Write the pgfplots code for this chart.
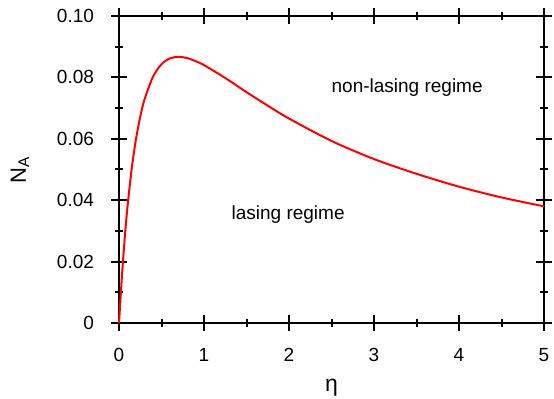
\documentclass[border=0pt]{standalone}
\usepackage{fontspec}
\setmainfont{Liberation Sans}
\usepackage{pgfplots}
\pgfplotsset{compat=1.18}
\usetikzlibrary{calc}
\pgfplotstableread{
x y
0 0
0.025 0.0112
0.05 0.0214
0.075 0.0303
0.1 0.0379
0.15 0.0504
0.2 0.0599
0.25 0.0672
0.3 0.0728
0.4 0.0802
0.5 0.0843
0.6 0.0862
0.7 0.0867
0.8 0.0863
0.9 0.0853
1.0 0.0840
1.25 0.0798
1.5 0.0752
1.75 0.0708
2.0 0.0666
2.5 0.0593
3.0 0.0534
3.5 0.0486
4.0 0.0444
4.5 0.0409
5.0 0.0380
}\curve
\begin{document}
\begin{tikzpicture}
\begin{axis}[
  scale only axis,
  width=212.5pt, height=153.5pt,
  xmin=0, xmax=5, ymin=0, ymax=0.10,
  xtick={0,1,2,3,4,5},
  ytick={0,0.02,0.04,0.06,0.08,0.10},
  yticklabels={0,0.02,0.04,0.06,0.08,0.10},
  minor x tick num=1, minor y tick num=1,
  tick align=center,
  major tick length=8pt, minor tick length=4pt,
  axis line style={line width=1pt},
  every tick/.style={line width=1pt, black},
  /pgf/number format/assume math mode=true,
  tick label style={font=\fontsize{9.5}{11}\selectfont},
  xticklabel style={yshift=-5pt},
  yticklabel style={xshift=-5pt},
  scaled y ticks=false,
  xlabel={η},
  ylabel={N\textsubscript{A}},
  xlabel style={font=\fontsize{11.5}{13}\selectfont, at={(axis description cs:0.5,-0.21)}, anchor=center},
  ylabel style={font=\fontsize{11}{13}\selectfont, at={(axis description cs:-0.233,0.5)}, anchor=center, rotate=0},
  clip=false,
]
\addplot[red, line width=1pt, smooth, tension=0.5] table[x=x,y=y] {\curve};
\node[font=\fontsize{9.5}{11}\selectfont] at (axis cs:3.39,0.0766) {non-lasing regime};
\node[font=\fontsize{9.5}{11}\selectfont] at (axis cs:1.99,0.0352) {lasing regime};
\coordinate (sw) at (rel axis cs:0,0);
\coordinate (ne) at (rel axis cs:1,1);
\end{axis}
\pgfresetboundingbox
\path[use as bounding box] ($(sw)+(-59.5pt,-38pt)$) rectangle ($(ne)+(5pt,8pt)$);
\end{tikzpicture}
\end{document}
